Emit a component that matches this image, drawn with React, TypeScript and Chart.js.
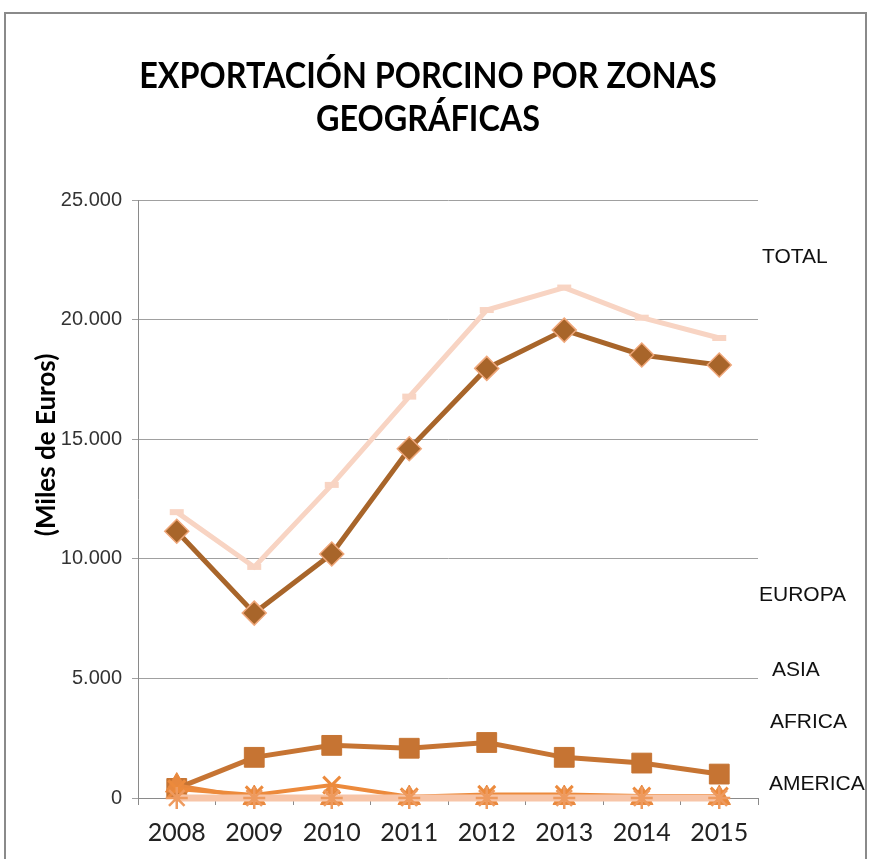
import React, { useEffect, useRef } from "react";
import { Chart, registerables } from "chart.js";

Chart.register(...registerables);

const categories = ["2008", "2009", "2010", "2011", "2012", "2013", "2014", "2015"];
const totalValues = [11950, 9660, 13090, 16780, 20400, 21340, 20080, 19230];
const europaValues = [11150, 7730, 10200, 14600, 17960, 19560, 18520, 18100];
const asiaValues = [400, 1700, 2200, 2080, 2320, 1700, 1460, 1000];
const africaValues = [520, 0, 0, 0, 0, 0, 0, 0];
const americaValues = [380, 130, 540, 50, 150, 150, 80, 80];
const oceaniaValues = [0, 0, 0, 0, 0, 0, 0, 0];
const yTickValues = [0, 5000, 10000, 15000, 20000, 25000];

const titleLines = ["EXPORTACIÓN PORCINO POR ZONAS", "GEOGRÁFICAS"];
const yAxisTitle = "(Miles de Euros)";
const sideLabels = ["TOTAL", "EUROPA", "ASIA", "AFRICA", "AMERICA"];
// where each side label sits, expressed on the value axis
const sideLabelAnchors = [22620, 8490, 5350, 3180, 585];
const sideLabelShift = [4, 1, 14, 12, 11];

function fmt(v: number): string {
  return String(v).replace(/\B(?=(\d{3})+(?!\d))/g, ".");
}

const decorPlugin = {
  id: "decor",
  beforeDraw(chart: any) {
    const ctx = chart.ctx;
    ctx.save();
    ctx.strokeStyle = "#8a8a8a";
    ctx.lineWidth = 2;
    ctx.strokeRect(5, 13, 861, 900);
    ctx.restore();
  },
  afterDraw(chart: any) {
    const ctx = chart.ctx;
    const area = chart.chartArea;
    const y = chart.scales.y;
    ctx.save();
    // title (narrow letterforms, like the original's Calibri)
    ctx.fillStyle = "#000";
    ctx.textAlign = "center";
    ctx.textBaseline = "middle";
    ctx.font = "bold 37px Lato, sans-serif";
    ctx.save();
    ctx.translate(428, 0);
    ctx.scale(0.875, 1);
    ctx.fillText(titleLines[0], 0, 76);
    ctx.fillText(titleLines[1], 0, 119);
    ctx.restore();
    // y-axis title
    ctx.save();
    ctx.translate(47, y.getPixelForValue(14760));
    ctx.rotate(-Math.PI / 2);
    ctx.font = "bold 26px Lato, sans-serif";
    ctx.fillText(yAxisTitle, 0, 0);
    ctx.restore();
    // side labels
    ctx.textAlign = "left";
    ctx.fillStyle = "#111";
    ctx.font = "21px 'Liberation Sans', Arial, sans-serif";
    sideLabels.forEach((t, i) => {
      ctx.fillText(t, area.right + sideLabelShift[i], y.getPixelForValue(sideLabelAnchors[i]));
    });
    ctx.restore();
  },
};

export default function App() {
  const ref = useRef<HTMLCanvasElement | null>(null);
  useEffect(() => {
    if (!ref.current) return;
    const chart = new Chart(ref.current, {
      type: "line",
      data: {
        labels: categories,
        datasets: [
          {
            label: "EUROPA",
            data: europaValues,
            borderColor: "#A8652A",
            borderWidth: 5,
            pointStyle: "rectRot",
            pointRadius: 12,
            pointBackgroundColor: "#A8652A",
            pointBorderColor: "#EFA77A",
            pointBorderWidth: 1.5,
            order: 1,
            clip: false,
          },
          {
            label: "TOTAL",
            data: totalValues,
            borderColor: "#F8D4C3",
            borderWidth: 5,
            pointStyle: "line",
            pointRadius: 7,
            pointBorderWidth: 6,
            pointBorderColor: "#F8D4C3",
            pointBackgroundColor: "#F8D4C3",
            order: 2,
            clip: false,
          },
          {
            label: "OCEANIA",
            data: oceaniaValues,
            borderColor: "#F7C5A8",
            borderWidth: 7,
            pointStyle: "star",
            pointRadius: 11,
            pointBorderWidth: 2.5,
            pointBorderColor: "#EE9A5E",
            pointBackgroundColor: "#EE9A5E",
            order: 3,
            clip: false,
          },
          {
            label: "AMERICA",
            data: americaValues,
            borderColor: "#EC8A3C",
            borderWidth: 4,
            pointStyle: "crossRot",
            pointRadius: 12,
            pointBorderWidth: 3,
            pointBorderColor: "#EC8A3C",
            pointBackgroundColor: "#EC8A3C",
            order: 4,
            clip: false,
          },
          {
            label: "AFRICA",
            data: africaValues,
            borderColor: "#E8883E",
            borderWidth: 4,
            pointStyle: "triangle",
            pointRadius: 13,
            pointBorderWidth: 1,
            pointBorderColor: "#E8883E",
            pointBackgroundColor: "#E8883E",
            order: 5,
            clip: false,
          },
          {
            label: "ASIA",
            data: asiaValues,
            borderColor: "#C67433",
            borderWidth: 5,
            pointStyle: "rect",
            pointRadius: 14,
            pointBorderWidth: 1,
            pointBorderColor: "#C67433",
            pointBackgroundColor: "#C67433",
            order: 6,
            clip: false,
          },
        ],
      },
      options: {
        responsive: false,
        animation: false,
        layout: { padding: { top: 200, right: 112, left: 0, bottom: 0 } },
        plugins: { legend: { display: false }, tooltip: { enabled: false }, title: { display: false } },
        elements: { line: { tension: 0 } },
        scales: {
          x: {
            offset: true,
            grid: { display: true, drawOnChartArea: false, drawTicks: true, tickLength: 7, offset: true, color: "#8a8a8a" },
            border: { color: "#8a8a8a", width: 1 },
            ticks: { font: { family: "Lato", size: 25 }, color: "#222", padding: 13, maxRotation: 0, autoSkip: false },
            afterFit: (s: any) => {
              s.height = 61;
            },
          },
          y: {
            min: 0,
            max: 25000,
            afterBuildTicks: (s: any) => {
              s.ticks = yTickValues.map((v) => ({ value: v }));
            },
            ticks: {
              font: { family: "'Liberation Sans', Arial", size: 20 },
              color: "#333",
              padding: 10,
              callback: (v: any) => fmt(Number(v)),
            },
            grid: { color: "#a0a0a0", tickLength: 6, lineWidth: 1 },
            border: { color: "#8a8a8a" },
            afterFit: (s: any) => {
              s.width = 138;
            },
          },
        },
      },
      plugins: [decorPlugin],
    } as any);
    return () => chart.destroy();
  }, []);
  return (
    <div style={{ position: "fixed", left: 0, top: 0, width: 870, height: 859, background: "#fff" }}>
      <canvas ref={ref} width={870} height={859} />
    </div>
  );
}
